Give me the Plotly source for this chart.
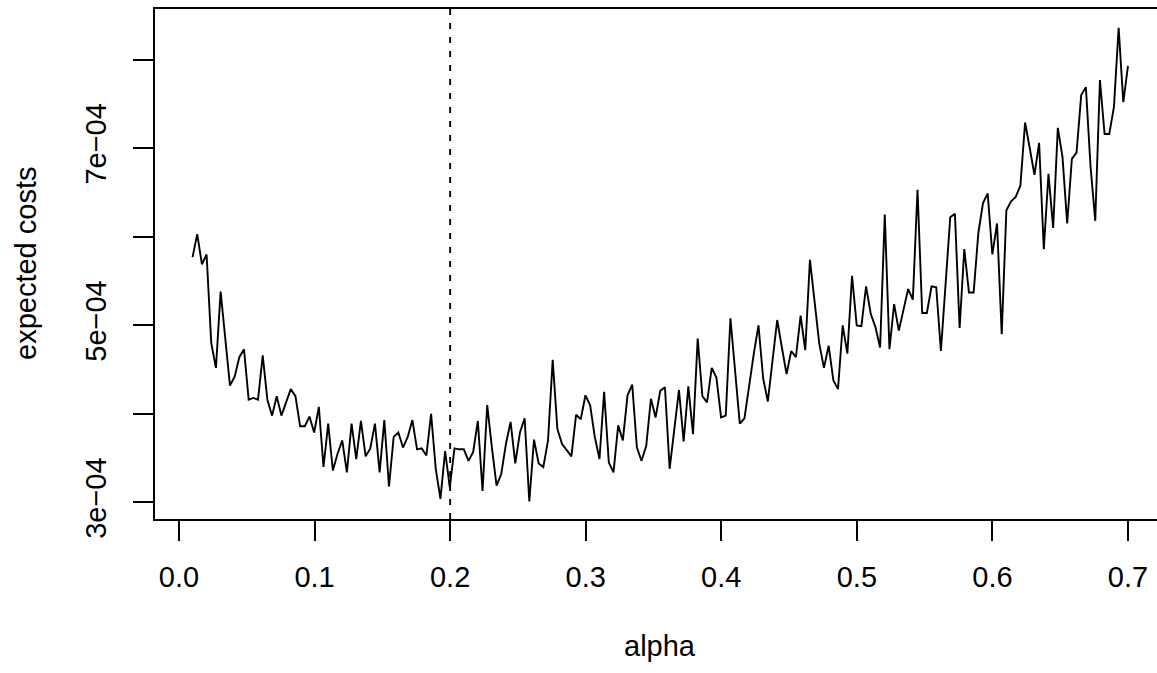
import numpy as np
import plotly.graph_objects as go

# expected costs, in units of 1e-04
costs_e4 = [
    5.77, 6.03, 5.69, 5.80, 4.80, 4.52, 5.38, 4.85, 4.32, 4.42,
    4.64, 4.73, 4.16, 4.18, 4.16, 4.66, 4.16, 3.98, 4.20, 3.98,
    4.13, 4.28, 4.20, 3.86, 3.86, 3.97, 3.79, 4.08, 3.40, 3.89,
    3.36, 3.55, 3.70, 3.34, 3.89, 3.49, 3.92, 3.52, 3.61, 3.89,
    3.34, 3.93, 3.18, 3.74, 3.79, 3.62, 3.74, 3.93, 3.60, 3.61,
    3.53, 4.00, 3.38, 3.04, 3.58, 3.17, 3.61, 3.60, 3.60, 3.47,
    3.57, 3.92, 3.13, 4.10, 3.62, 3.19, 3.32, 3.66, 3.91, 3.44,
    3.79, 3.95, 3.01, 3.71, 3.44, 3.40, 3.70, 4.61, 3.83, 3.66,
    3.59, 3.52, 3.99, 3.94, 4.21, 4.10, 3.74, 3.49, 4.25, 3.45,
    3.34, 3.87, 3.70, 4.21, 4.33, 3.62, 3.47, 3.64, 4.17, 3.96,
    4.26, 4.30, 3.38, 3.82, 4.27, 3.69, 4.31, 3.77, 4.85, 4.20,
    4.13, 4.52, 4.41, 3.96, 3.98, 5.08, 4.48, 3.89, 3.95, 4.34,
    4.68, 5.00, 4.40, 4.14, 4.59, 5.06, 4.75, 4.45, 4.71, 4.64,
    5.11, 4.72, 5.74, 5.25, 4.79, 4.52, 4.77, 4.38, 4.28, 5.00,
    4.68, 5.56, 5.00, 4.99, 5.44, 5.13, 4.98, 4.75, 6.25, 4.73,
    5.24, 4.94, 5.19, 5.41, 5.29, 6.53, 5.14, 5.14, 5.44, 5.43,
    4.71, 5.51, 6.22, 6.26, 4.97, 5.86, 5.37, 5.37, 6.04, 6.38,
    6.49, 5.80, 6.15, 4.90, 6.30, 6.40, 6.45, 6.58, 7.29, 7.00,
    6.70, 7.06, 5.86, 6.71, 6.10, 7.23, 6.90, 6.15, 6.88, 6.95,
    7.60, 7.69, 6.79, 6.18, 7.77, 7.16, 7.16, 7.47, 8.36, 7.52,
    7.93,
]
alpha_start, alpha_end = 0.01, 0.70
alpha_opt = 0.2

x_tickvals = [0.0, 0.1, 0.2, 0.3, 0.4, 0.5, 0.6, 0.7]
x_ticktext = ["0.0", "0.1", "0.2", "0.3", "0.4", "0.5", "0.6", "0.7"]
y_tickvals = [3e-4, 4e-4, 5e-4, 6e-4, 7e-4, 8e-4]
y_ticktext = ["3e\u221204", "", "5e\u221204", "", "7e\u221204", ""]

alpha = np.linspace(alpha_start, alpha_end, len(costs_e4))
costs = [v * 1e-4 for v in costs_e4]

FONT = "Liberation Sans, Arial, Helvetica, sans-serif"
FS = 29

# the plotting region runs past the right edge of the window, as in the reference
W, H = 1165, 673
L, T, B = 155, 9, 154
PW, PH = W - L, H - T - B

fig = go.Figure()
fig.add_trace(go.Scatter(x=alpha, y=costs, mode="lines",
                         line=dict(color="black", width=1.9),
                         showlegend=False, hoverinfo="skip"))

fig.add_shape(type="line", xref="x", yref="y domain",
              x0=alpha_opt, x1=alpha_opt, y0=0, y1=1,
              line=dict(color="black", width=1.9, dash="6px,8px"))

fig.update_layout(
    width=W, height=H,
    margin=dict(l=L, r=0, t=T, b=B),
    plot_bgcolor="white", paper_bgcolor="white",
    font=dict(family=FONT, size=FS, color="black"),
    xaxis=dict(range=[-0.0177, 0.7273], tickvals=x_tickvals, ticktext=x_ticktext,
               ticks="outside", ticklen=20, tickwidth=1.8, tickcolor="black",
               showline=True, linecolor="black", linewidth=1.8, mirror=True,
               showgrid=False, zeroline=False, ticklabelstandoff=11,
               tickfont=dict(family=FONT, size=FS)),
    yaxis=dict(range=[2.813e-4, 8.572e-4], tickvals=y_tickvals, ticktext=y_ticktext,
               ticks="outside", ticklen=20, tickwidth=1.8, tickcolor="black",
               showline=True, linecolor="black", linewidth=1.8, mirror=False,
               showgrid=False, zeroline=False, tickangle=-90, ticklabelstandoff=16,
               tickfont=dict(family=FONT, size=FS)),
    annotations=[
        dict(text="alpha", xref="paper", yref="paper", x=(660 - L) / PW,
             y=(T + PH - 646) / PH, xanchor="center", yanchor="middle",
             showarrow=False, font=dict(family=FONT, size=FS)),
        dict(text="expected costs", xref="paper", yref="paper", x=(26 - L) / PW,
             y=(T + PH - 264) / PH, xanchor="center", yanchor="middle", textangle=-90,
             showarrow=False, font=dict(family=FONT, size=FS)),
    ],
)

fig.write_html(
    "out.html",
    config={"displayModeBar": False},
    post_script="document.body.style.margin='0';document.body.style.overflow='hidden';",
)
